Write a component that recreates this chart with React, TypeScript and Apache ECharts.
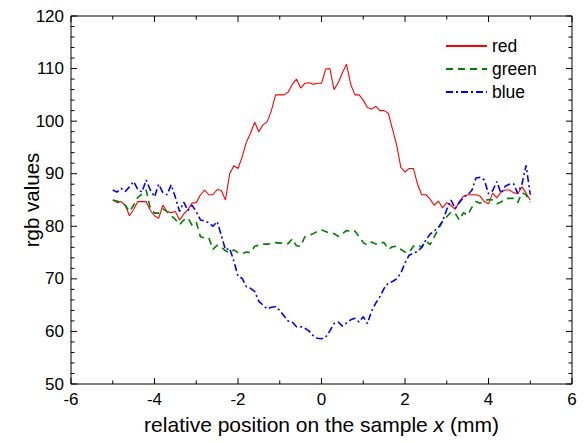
import React, { useEffect, useRef } from "react";
import * as echarts from "echarts";

// sample positions x (mm): -5 .. 5 in 0.1 steps
const xPositions: number[] = Array.from({ length: 101 }, (_, k) => Math.round((k * 0.1 - 5) * 10) / 10);

const redValues: number[] = [
  85, 84.5, 84.7, 84, 82, 83.2, 84.7, 84.7, 84.7, 83,
  82, 81.5, 84, 82.8, 82.6, 82.8, 81.2, 82.3, 83.2, 84.4,
  84.5, 86, 86.9, 86, 86, 87, 86.8, 85, 90, 91.5,
  91, 93.2, 96, 97.7, 99.8, 98, 99.3, 99.9, 102, 105,
  105, 105, 105.5, 107, 108, 106.3, 107.2, 107.3, 107, 107.2,
  107.2, 109.9, 110, 106, 107.3, 109.2, 110.8, 107, 105, 105,
  104, 102.6, 102.3, 102.8, 102, 102, 101.5, 98.5, 95.5, 91.2,
  90.3, 91, 91, 88, 86, 86, 85.2, 84, 84.8, 83.5,
  84.5, 84, 83.2, 84.7, 85.7, 86, 86, 86, 85.7, 84.7,
  84.3, 86.3, 85.4, 86.5, 86.9, 86.9, 86.4, 86.2, 87.5, 86.3,
  85,
];

const greenValues: number[] = [
  85, 84.8, 84.5, 84, 82.8, 84, 85.5, 86.1, 86.9, 83.4,
  82.5, 82.5, 83.3, 82.8, 82, 81.3, 80.3, 81.2, 81.6, 80.2,
  80.8, 78, 77.8, 77.8, 75.6, 76.4, 76.1, 75.3, 75, 75.5,
  75, 74.8, 75.1, 75, 76.2, 76.4, 76.6, 76.6, 76.7, 76.9,
  76.8, 76.8, 76.7, 77.6, 76.3, 76.2, 78, 78.3, 78.6, 79,
  79.3, 79, 78.7, 78.6, 78.1, 78.6, 79.2, 79, 79.1, 78,
  76.9, 76.4, 77, 76.6, 76.9, 76.9, 75.6, 76.1, 76.2, 75.6,
  75.1, 75, 76.2, 76.5, 76, 77.2, 76.5, 78, 79.5, 80.9,
  81.8, 82.7, 82.5, 81.2, 82.6, 82.1, 83.6, 84.7, 84.4, 84.8,
  85.1, 85, 84.3, 84.6, 85.3, 85.3, 85.3, 84.5, 86.4, 86,
  84.6,
];

const blueValues: number[] = [
  86.9, 86.5, 87.2, 86.6, 87.5, 88.5, 87, 86.5, 88.8, 86.9,
  85.6, 88, 86.4, 86, 87.9, 85.5, 82.8, 84.6, 83, 84,
  82.8, 81.2, 81, 80.7, 80, 80.9, 78.3, 75.5, 75.8, 73.4,
  70.5, 70.1, 68.5, 68.2, 67.6, 65.7, 65, 64.3, 64.6, 64.7,
  64, 63, 62, 61.8, 60.9, 60.9, 60.6, 60.1, 59.2, 58.7,
  58.6, 58.9, 60.1, 61.5, 61.8, 61, 61.6, 62.2, 62.5, 61.8,
  62.8, 61.5, 63.9, 65.4, 66.6, 68.2, 69.2, 69.5, 70, 71.1,
  73, 74.5, 74.9, 75.2, 76, 77.4, 78.5, 79.1, 79.8, 81,
  83.2, 85, 83.4, 84.5, 85.5, 86, 86.8, 89.2, 89.3, 88.8,
  86.2, 86.8, 88.5, 86.3, 87.6, 88, 88.1, 86.3, 88, 91.6,
  86,
];

const seriesNames = ["red", "green", "blue"];
const xMajorTicks = [-6, -4, -2, 0, 2, 4, 6];
const xMinorTicks = [-5, -3, -1, 1, 3, 5];
const yMajorTicks = [50, 60, 70, 80, 90, 100, 110, 120];
const yMinorTicks = [
  52, 54, 56, 58, 62, 64, 66, 68, 72, 74, 76, 78, 82, 84, 86, 88,
  92, 94, 96, 98, 102, 104, 106, 108, 112, 114, 116, 118,
];

const FONT = "Liberation Sans, Arial, Helvetica, sans-serif";

export default function App() {
  const ref = useRef<HTMLDivElement>(null);
  useEffect(() => {
    if (!ref.current) return;
    const chart = echarts.init(ref.current, null, { renderer: "svg" });
    const pair = (vals: number[]) => xPositions.map((x, i) => [x, vals[i]]);

    const xMin = xMajorTicks[0];
    const xMax = xMajorTicks[xMajorTicks.length - 1];
    const yMin = yMajorTicks[0];
    const yMax = yMajorTicks[yMajorTicks.length - 1];
    const MAJOR = 6;
    const MINOR = 3.5;

    // tick marks on all four sides, pointing inward: [x, y, dirX, dirY, length]
    const tickItems: number[][] = [];
    const addX = (vals: number[], len: number) =>
      vals.forEach((v) => {
        tickItems.push([v, yMin, 0, -1, len]);
        tickItems.push([v, yMax, 0, 1, len]);
      });
    const addY = (vals: number[], len: number) =>
      vals.forEach((v) => {
        tickItems.push([xMin, v, 1, 0, len]);
        tickItems.push([xMax, v, -1, 0, len]);
      });
    addX(xMajorTicks, MAJOR);
    addX(xMinorTicks, MINOR);
    addY(yMajorTicks, MAJOR);
    addY(yMinorTicks, MINOR);

    chart.setOption({
      animation: false,
      backgroundColor: "#fff",
      textStyle: { fontFamily: FONT },
      grid: {
        left: 71,
        right: 13,
        top: 16,
        bottom: 59,
        containLabel: false,
        outerBoundsMode: "none",
        show: true,
        borderColor: "#000",
        borderWidth: 1,
        backgroundColor: "transparent",
      },
      legend: {
        show: true,
        orient: "vertical",
        left: 440,
        top: 32,
        itemWidth: 41,
        itemHeight: 16,
        itemGap: 5,
        data: seriesNames,
        itemStyle: { opacity: 0 },
        textStyle: { fontFamily: FONT, fontSize: 17.5, color: "#000" },
      },
      xAxis: {
        type: "value",
        min: xMin,
        max: xMax,
        interval: 2,
        axisLine: { show: false, onZero: false },
        axisTick: { show: false },
        minorTick: { show: false },
        splitLine: { show: false },
        name: "{a|relative position on the sample }{b|x}{a| (mm)}",
        nameLocation: "middle",
        nameGap: 30,
        nameMoveOverlap: false,
        nameTextStyle: {
          rich: {
            a: { fontFamily: FONT, fontSize: 21, color: "#000" },
            b: { fontFamily: FONT, fontSize: 21, color: "#000", fontStyle: "italic" },
          },
        },
        axisLabel: { show: true, fontFamily: FONT, fontSize: 17, color: "#000", margin: 7 },
      },
      yAxis: {
        type: "value",
        min: yMin,
        max: yMax,
        interval: 10,
        axisLine: { show: false, onZero: false },
        axisTick: { show: false },
        minorTick: { show: false },
        splitLine: { show: false },
        name: "rgb values",
        nameLocation: "middle",
        nameGap: 29,
        nameMoveOverlap: false,
        nameTextStyle: { fontFamily: FONT, fontSize: 20.5, color: "#000" },
        axisLabel: { show: true, fontFamily: FONT, fontSize: 17, color: "#000", margin: 7 },
      },
      series: [
        {
          name: seriesNames[0],
          type: "line",
          data: pair(redValues),
          symbol: "none",
          showSymbol: false,
          lineStyle: { color: "#ff0000", width: 1.1, type: "solid" },
          itemStyle: { color: "#ff0000" },
        },
        {
          name: seriesNames[1],
          type: "line",
          data: pair(greenValues),
          symbol: "none",
          showSymbol: false,
          lineStyle: { color: "#008000", width: 1.6, type: [7, 5] },
          itemStyle: { color: "#008000" },
        },
        {
          name: seriesNames[2],
          type: "line",
          data: pair(blueValues),
          symbol: "none",
          showSymbol: false,
          lineStyle: { color: "#0000ff", width: 1.6, type: [7, 3, 2, 3] },
          itemStyle: { color: "#0000ff" },
        },
        {
          name: "ticks",
          type: "custom",
          data: tickItems,
          encode: { x: 0, y: 1 },
          clip: false,
          silent: true,
          z: 10,
          renderItem: (_params: any, api: any) => {
            const p = api.coord([api.value(0), api.value(1)]);
            const dx = api.value(2);
            const dy = api.value(3);
            const len = api.value(4);
            return {
              type: "line",
              shape: { x1: p[0], y1: p[1], x2: p[0] + dx * len, y2: p[1] + dy * len },
              style: { stroke: "#000", lineWidth: 1 },
            };
          },
        },
      ],
    });
    return () => chart.dispose();
  }, []);
  return <div ref={ref} style={{ width: 585, height: 443, position: "absolute", left: 0, top: 0 }} />;
}
